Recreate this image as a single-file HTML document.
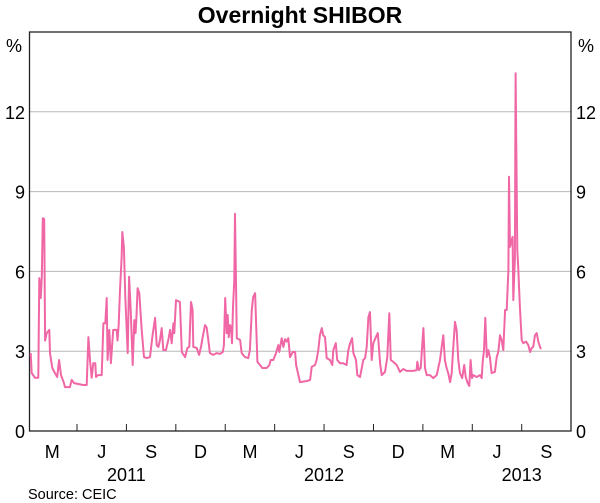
<!DOCTYPE html>
<html><head><meta charset="utf-8"><style>
body{margin:0;background:#fff;}
svg{display:block;font-family:"Liberation Sans",Arial,sans-serif;}
</style></head><body>
<svg id="chart" width="600" height="503" viewBox="0 0 600 503"></svg>
<script>
// months since 1 Jan 2011
const dates=[0.19,0.25,0.45,0.65,0.71,0.80,0.86,0.92,1.01,1.06,1.16,1.32,1.36,1.50,1.66,1.80,1.91,2.03,2.21,2.27,2.57,2.68,2.82,3.38,3.59,3.69,3.79,3.89,3.99,4.11,4.15,4.26,4.50,4.60,4.72,4.80,4.86,4.96,5.06,5.20,5.41,5.46,5.53,5.61,5.71,5.75,5.85,5.93,6.08,6.16,6.26,6.38,6.48,6.56,6.62,6.68,6.78,6.93,7.07,7.23,7.43,7.57,7.74,7.84,7.94,8.04,8.14,8.24,8.40,8.54,8.65,8.75,8.85,8.91,9.01,9.25,9.36,9.56,9.70,9.82,9.92,10.02,10.06,10.27,10.41,10.53,10.63,10.77,10.87,10.97,11.07,11.27,11.48,11.68,11.85,11.92,12.00,12.09,12.15,12.21,12.29,12.35,12.41,12.47,12.55,12.59,12.70,12.90,13.00,13.20,13.40,13.50,13.61,13.70,13.81,13.95,14.11,14.25,14.52,14.68,14.76,14.92,15.08,15.22,15.28,15.43,15.53,15.63,15.73,15.83,15.93,16.10,16.24,16.30,16.54,16.95,17.15,17.25,17.45,17.55,17.65,17.75,17.86,17.95,18.06,18.16,18.36,18.50,18.56,18.71,18.80,18.97,19.17,19.37,19.47,19.58,19.70,19.78,19.94,20.02,20.18,20.29,20.38,20.49,20.59,20.69,20.79,20.89,20.99,21.15,21.26,21.40,21.50,21.70,21.84,21.96,22.05,22.20,22.41,22.61,22.81,23.02,23.42,23.62,23.66,23.76,23.87,24.03,24.13,24.23,24.43,24.63,24.84,25.04,25.14,25.24,25.34,25.44,25.54,25.65,25.75,25.85,25.95,26.05,26.15,26.25,26.39,26.51,26.60,26.72,26.82,26.90,26.98,27.06,27.27,27.47,27.57,27.63,27.71,27.79,27.88,27.97,28.07,28.17,28.37,28.48,28.58,28.68,28.78,28.88,28.99,29.09,29.19,29.23,29.29,29.45,29.49,29.59,29.63,29.73,29.79,29.89,30.00,30.10,30.26,30.40,30.51,30.61,30.70,30.81,30.91,31.01,31.11,31.17];
const rates=[2.93,2.18,2.0,2.0,5.75,5.0,5.8,8.0,7.97,3.4,3.68,3.8,2.93,2.37,2.18,2.03,2.67,2.1,1.8,1.65,1.65,1.92,1.8,1.73,1.73,3.53,2.67,2.0,2.55,2.55,2.03,2.1,2.1,4.05,4.05,5.0,2.67,3.8,2.55,3.8,3.8,3.4,4.0,5.3,6.5,7.48,6.9,5.04,2.93,5.8,4.55,2.48,4.17,3.68,4.43,5.37,5.18,3.8,2.78,2.74,2.78,3.53,4.25,3.23,3.16,3.42,3.87,3.04,3.04,3.42,3.8,3.3,4.05,3.68,4.92,4.85,2.97,2.78,3.12,3.16,4.85,4.55,3.16,3.12,2.86,3.16,3.53,3.98,3.9,3.42,2.93,2.86,2.93,2.9,2.97,3.23,5.0,3.68,4.36,3.53,3.98,3.9,3.3,4.66,5.67,8.16,3.49,3.42,2.93,2.78,2.74,3.04,4.55,5.04,5.18,2.6,2.48,2.37,2.37,2.48,2.67,2.67,2.93,3.23,2.97,3.49,3.16,3.45,3.36,3.49,2.78,2.97,2.97,2.48,1.84,1.88,1.92,2.41,2.48,2.67,3.04,3.6,3.87,3.6,3.53,2.74,2.67,2.48,3.04,3.3,2.67,2.55,2.55,2.48,3.04,3.3,3.49,2.93,2.67,2.1,2.03,2.37,2.67,2.74,3.16,4.28,4.47,2.67,3.3,3.53,3.68,2.55,2.1,2.22,2.78,4.43,2.67,2.6,2.48,2.22,2.33,2.26,2.26,2.29,2.6,2.29,2.37,3.87,2.37,2.1,2.1,1.99,2.1,2.67,3.16,3.6,2.67,2.37,2.18,1.84,2.18,3.16,4.1,3.8,2.67,2.18,1.99,2.48,2.03,1.8,1.69,2.67,1.99,2.1,2.03,2.1,1.99,2.6,3.04,4.25,2.78,3.04,2.78,2.18,2.22,2.78,2.97,3.6,3.42,3.04,4.55,4.55,6.05,9.56,6.92,7.3,4.92,6.5,13.45,6.8,6.17,4.66,3.42,3.3,3.36,3.23,2.97,3.12,3.16,3.6,3.68,3.36,3.16,3.08];
const yTicks=[0,3,6,9,12];
const qTicks=[3,6,9,12,15,18,21,24,27,30];
const qLabels=["M","J","S","D","M","J","S","D","M","J","S"];
const years=["2011","2012","2013"];
const yearPos=[6,18,30];

const NS="http://www.w3.org/2000/svg";
const svg=document.getElementById('chart');
const L=29.5,R=571,T=32,B=431;
const xS=m=>27.6+16.47*m;
const yS=v=>B-(B-T)*v/15;
function mk(t,a,p){const e=document.createElementNS(NS,t);for(const k in a)e.setAttribute(k,a[k]);(p||svg).appendChild(e);return e;}

yTicks.forEach(v=>{
  if(v>0){const g=mk('line',{x1:L,x2:R,y1:yS(v),y2:yS(v),stroke:'#b8b8b8','stroke-width':1});
  
  }
  const a=mk('text',{x:25,y:yS(v)+7,'text-anchor':'end','font-size':18,fill:'#000'});a.textContent=v;
  
  
  const b=mk('text',{x:576,y:yS(v)+7,'text-anchor':'start','font-size':18,fill:'#000'});b.textContent=v;
  
  
});
const frame=mk('rect',{x:L,y:T,width:R-L,height:B-T,fill:'none',stroke:'#222','stroke-width':1.3});


qTicks.forEach(m=>{const t=mk('line',{x1:xS(m),x2:xS(m),y1:B,y2:B-7,stroke:'#222','stroke-width':1});
  
  });
qLabels.forEach((s,i)=>{const t=mk('text',{x:xS(1.5+3*i),y:458,'text-anchor':'middle','font-size':18});t.textContent=s;
  
  });
years.forEach((s,i)=>{const t=mk('text',{x:xS(yearPos[i]),y:481,'text-anchor':'middle','font-size':18});t.textContent=s;
  
  });
let d='';dates.forEach((m,i)=>{d+=(i?'L':'M')+xS(m).toFixed(1)+' '+yS(rates[i]).toFixed(1);});
const line=mk('path',{d:d,fill:'none',stroke:'#f067a6','stroke-width':2,'stroke-linejoin':'round'});


const p1=mk('text',{x:14,y:52,'text-anchor':'middle','font-size':18});p1.textContent='%';


const p2=mk('text',{x:586,y:52,'text-anchor':'middle','font-size':18});p2.textContent='%';


const title=mk('text',{x:300,y:23,'text-anchor':'middle','font-size':23,'font-weight':'bold'});title.textContent='Overnight SHIBOR';


const src=mk('text',{x:28,y:499,'font-size':14.5});src.textContent='Source: CEIC';


</script>
</body></html>
